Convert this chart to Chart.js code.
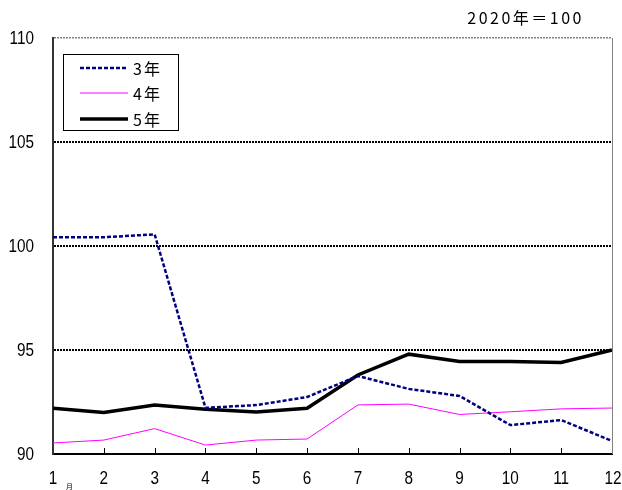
<!DOCTYPE html>
<html>
<head>
<meta charset="utf-8">
<script src="https://cdn.jsdelivr.net/npm/chart.js@4/dist/chart.umd.min.js"></script>
<style>
  body { margin: 0; background: #fff; }
  #wrap { width: 622px; height: 490px; }
</style>
</head>
<body>
<div id="wrap"><canvas id="myChart" width="622" height="490"></canvas></div>
<script>
'use strict'

var months = ['1', '2', '3', '4', '5', '6', '7', '8', '9', '10', '11', '12'];
var labels = ['3年', '4年', '5年'];
var y3 = [100.42, 100.42, 100.56, 92.22, 92.35, 92.74, 93.75, 93.13, 92.79, 91.39, 91.63, 90.63];
var y4 = [90.53, 90.67, 91.22, 90.43, 90.67, 90.72, 92.36, 92.40, 91.90, 92.03, 92.17, 92.21];
var y5 = [92.20, 92.00, 92.36, 92.15, 92.02, 92.20, 93.80, 94.80, 94.45, 94.45, 94.40, 95.00];
var yTicks = [90, 95, 100, 105, 110];
var unitText = '2020年＝100';

var tickFont = '18px "Liberation Sans", Arial, sans-serif';
var jpFont = '"Noto Sans CJK JP", sans-serif';

// narrow text, like the original's condensed digits
function narrowText(c, text, x, y, align) {
  c.save();
  c.translate(x, y);
  c.scale(0.85, 1);
  c.textAlign = align;
  c.textBaseline = 'middle';
  c.fillText(text, 0, 0);
  c.restore();
}

// tick labels, inside tick marks, right frame, legend box, unit label
var extras = {
  id: 'extras',
  afterDraw: function(chart) {
    var c = chart.ctx;
    var a = chart.chartArea;
    var x = chart.scales.x;
    var y = chart.scales.y;

    c.save();
    c.strokeStyle = '#808080';
    c.lineWidth = 1;
    c.beginPath();
    c.moveTo(a.right + 0.5, a.top);
    c.lineTo(a.right + 0.5, a.bottom);
    c.stroke();

    c.strokeStyle = '#000';
    c.lineWidth = 1;
    for (var i = 1; i < months.length - 1; i++) {
      var px = Math.round(x.getPixelForValue(i)) + 0.5;
      c.beginPath();
      c.moveTo(px, a.bottom);
      c.lineTo(px, a.bottom - 6);
      c.stroke();
    }

    c.fillStyle = '#000';
    c.font = tickFont;
    y.ticks.forEach(function(t) {
      narrowText(c, String(t.value), a.left - 19, y.getPixelForValue(t.value) + 1, 'right');
    });
    months.forEach(function(m, i) {
      narrowText(c, m, x.getPixelForValue(i) + (i === 11 ? 1 : 0), 479, 'center');
    });

    // 月 under the first label
    c.font = '7px ' + jpFont;
    c.textAlign = 'left';
    c.textBaseline = 'middle';
    c.fillText('月', x.getPixelForValue(0) + 13, 486);

    // legend
    c.fillStyle = '#fff';
    c.fillRect(63.5, 54.5, 115, 76);
    c.strokeStyle = '#000';
    c.lineWidth = 1;
    c.strokeRect(63.5, 54.5, 115, 76);
    var rows = [68, 93, 119];
    chart.data.datasets.forEach(function(ds, k) {
      c.save();
      c.strokeStyle = ds.borderColor;
      c.lineWidth = ds.borderWidth;
      c.setLineDash(ds.borderDash || []);
      c.beginPath();
      c.moveTo(80, rows[k]);
      c.lineTo(128, rows[k]);
      c.stroke();
      c.restore();
      c.fillStyle = '#000';
      c.font = '16px ' + jpFont;
      c.textAlign = 'left';
      c.textBaseline = 'middle';
      c.letterSpacing = '2px';
      c.fillText(ds.label, 133, rows[k] + 1);
    });

    // unit
    c.font = '16px ' + jpFont;
    c.letterSpacing = '2.5px';
    c.textAlign = 'right';
    c.textBaseline = 'middle';
    c.fillText(unitText, 584, 18);
    c.restore();
  }
};

var ctx = document.getElementById('myChart');

var chart = new Chart(ctx, {
  type: 'line',
  data: {
    labels: months,
    datasets: [{
      label: labels[0],
      data: y3,
      borderColor: '#000080',
      borderWidth: 2.5,
      borderDash: [4, 2],
      pointRadius: 0,
      tension: 0
    },
    {
      label: labels[1],
      data: y4,
      borderColor: '#ff00ff',
      borderWidth: 1,
      pointRadius: 0,
      tension: 0
    },
    {
      label: labels[2],
      data: y5,
      borderColor: '#000000',
      borderWidth: 3.5,
      pointRadius: 0,
      tension: 0
    }]
  },
  options: {
    responsive: false,
    animation: false,
    events: [],
    layout: { padding: { top: 38, right: 10, left: 0, bottom: 0 } },
    plugins: {
      legend: { display: false },
      tooltip: { enabled: false }
    },
    scales: {
      x: {
        offset: false,
        grid: { display: false, drawTicks: false },
        border: { display: true, color: '#000', width: 2 },
        ticks: { display: false, autoSkip: false },
        afterFit: function(scale) {
          scale.height = 36;
          scale.paddingLeft = 0;
          scale.paddingRight = 0;
        }
      },
      y: {
        min: 90,
        max: 110,
        afterBuildTicks: function(scale) {
          scale.ticks = yTicks.map(function(v) { return { value: v }; });
        },
        grid: {
          drawTicks: false,
          color: function(c) {
            if (c.tick && c.tick.value === 110) return '#808080';
            if (c.tick && c.tick.value === 90) return 'rgba(0,0,0,0)';
            return '#000';
          },
          lineWidth: function(c) {
            return c.tick && c.tick.value === 110 ? 1.5 : 2;
          }
        },
        border: { display: true, color: '#333', width: 2, dash: [2, 1] },
        ticks: { display: false },
        afterFit: function(scale) { scale.width = 53; }
      }
    }
  },
  plugins: [extras]
});
</script>
</body>
</html>
